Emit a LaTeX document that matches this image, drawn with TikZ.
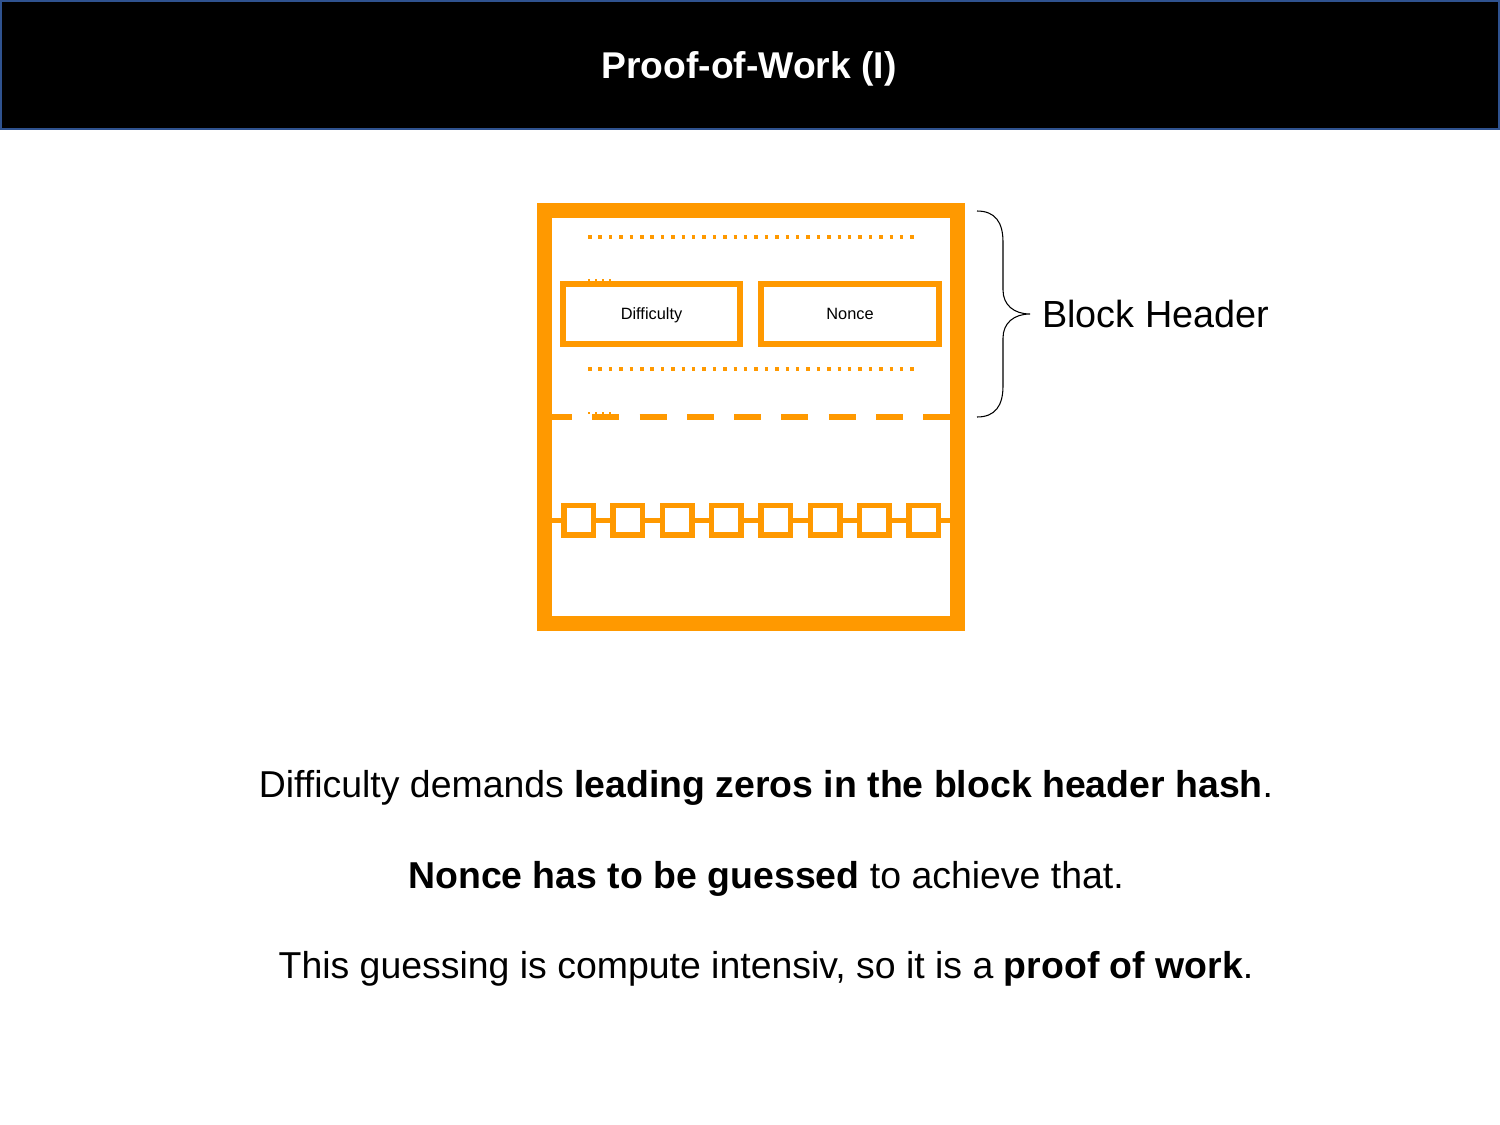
\documentclass[tikz,border=0pt]{standalone}
\usepackage{fontspec}
\setmainfont{Liberation Sans}
\definecolor{blockorange}{RGB}{255,153,0}
\definecolor{barblue}{RGB}{47,82,143}

\begin{document}
\begin{tikzpicture}[x=0.02cm, y=-0.02cm,
		field/.style={draw=blockorange, fill=white, line width=0.12cm, minimum width=3.54cm, minimum height=1.2cm, inner sep=0pt, text depth=0pt, font=\fontsize{9.3}{11}\selectfont},
		link/.style={draw=blockorange, fill=white, line width=0.11cm, minimum size=0.59cm, inner sep=0pt},
		dots/.style={blockorange, line width=0.07cm, dash pattern=on 0.07cm off 0.138cm},
		textline/.style={anchor=base, inner sep=0pt, font=\fontsize{21.3}{25}\selectfont}]
		\useasboundingbox (0,0) rectangle (1500,1125);
		% title bar
		\fill[black, draw=barblue, line width=0.04cm] (1,1) rectangle (1499,129);
		\node[text=white, anchor=base, inner sep=0pt, font=\bfseries\fontsize{21.2}{25}\selectfont] (title) at (749,79) {Proof-of-Work (I)};
		
		\coordinate (A) at (544.5,210.5);
		\coordinate (B) at (957.5,623.5);
		\coordinate (WL) at (552,520);
		\coordinate (WR) at (950,520);
		\coordinate (T) at (977,211);
		\coordinate (M) at (1030,314);
		\coordinate (U) at (977,417);
		
		\foreach \y in {237, 369} {
			\draw[dots] (588,\y) -- (915,\y);
		}
		\draw[dots, line width=0.04cm, dash pattern=on 0.04cm off 0.1cm] (588,280) -- (612,280);
		\node[field] (diff) at (651.5,314) {Difficulty};
		\node[field, minimum width=3.56cm] (nonce) at (850,314) {Nonce};
		
		\draw[blockorange, line width=0.13cm, dash pattern=on 0.54cm off 0.406cm] (545,417) -- (958,417);
		\draw[dots, line width=0.04cm, dash pattern=on 0.04cm off 0.1cm] (588,413) -- (612,413);
		
		% chain
		\foreach \i in {0,...,7} {
			\node[link] (c\i) at ({578.5+49.3*\i},520) {};
		}
		\foreach \s/\t in {WL/c0, c0/c1, c1/c2, c2/c3, c3/c4, c4/c5, c5/c6, c6/c7, c7/WR} {
			\draw[blockorange, line width=0.1cm] (\s) -- (\t);
		}
		
		\draw[blockorange, line width=0.3cm] (A) rectangle (B);
		
		% brace
		\draw[line width=0.6pt] (T) .. controls (995,211) and (1003,222) .. (1003,242) -- (1003,290)
			.. controls (1003,305) and (1014,314) .. (M)
			.. controls (1014,314) and (1003,323) .. (1003,338) -- (1003,386)
			.. controls (1003,406) and (995,417) .. (U);
		\node[anchor=base west, inner sep=0pt, font=\fontsize{21.5}{25}\selectfont] (head) at (1042,327) {Block Header};
		
		\node[textline] (l1) at (766,797) {Difficulty demands \textbf{leading zeros in the block header hash}.};
		\node[textline] (l2) at (766,888) {\textbf{Nonce has to be guessed} to achieve that.};
		\node[textline] (l3) at (766,978) {This guessing is compute intensiv, so it is a \textbf{proof of work}.};
	\end{tikzpicture}
\end{document}
